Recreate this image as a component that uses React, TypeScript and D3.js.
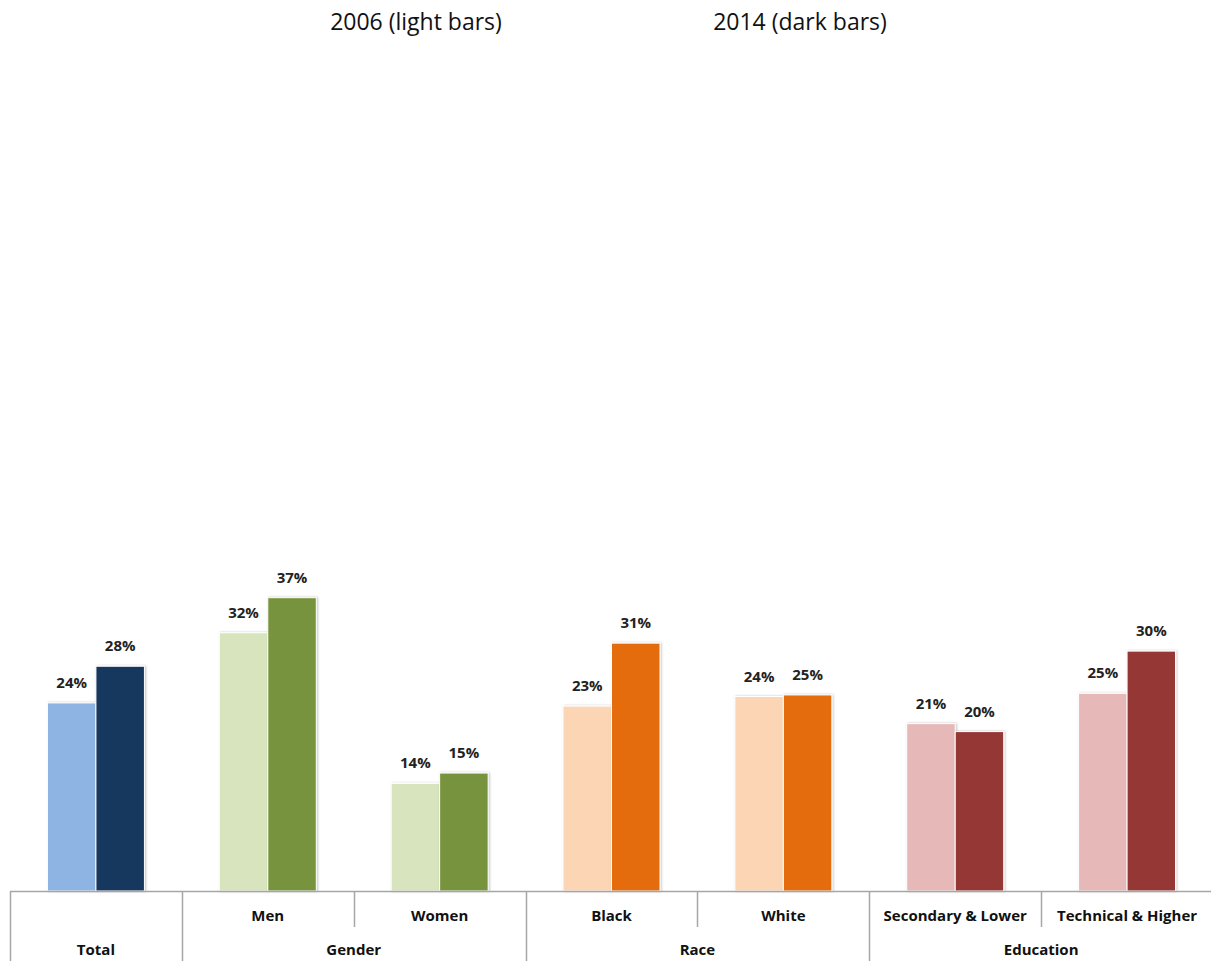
import React from "react";
import * as d3 from "d3";

const categories = ["Total", "Men", "Women", "Black", "White", "Secondary & Lower", "Technical & Higher"];
const categoryLabels = ["", "Men", "Women", "Black", "White", "Secondary & Lower", "Technical & Higher"];
const groups = ["Total", "Gender", "Gender", "Race", "Race", "Education", "Education"];
const values2006 = [23.6, 32.4, 13.5, 23.2, 24.4, 21.0, 24.8];
const values2014 = [28.2, 36.8, 14.8, 31.1, 24.6, 20.0, 30.1];
const lightColors = ["#8EB4E3", "#D7E4BD", "#D7E4BD", "#FCD5B5", "#FCD5B5", "#E6B9B8", "#E6B9B8"];
const darkColors = ["#17375E", "#77933C", "#77933C", "#E46C0A", "#E46C0A", "#953735", "#953735"];
const seriesNames = ["2006", "2014"];
const legendTexts = ["2006 (light bars)", "2014 (dark bars)"];

const W = 1211;
const H = 961;
const baseline = 891;
const FONT = "'Open Sans', Lato, sans-serif";

export default function App() {
  const x = d3.scaleBand<string>().domain(categories).range([10, 1213]).padding(0);
  const slot = x.bandwidth();
  const inner = d3
    .scaleBand<string>()
    .domain(seriesNames)
    .range([0, slot])
    .paddingInner(0)
    .paddingOuter((slot - 97) / 2 / 48.5);
  const y = d3.scaleLinear().domain([0, 10]).range([baseline, baseline - 79.7]);

  const groupSpans: { name: string; start: number; end: number }[] = [];
  groups.forEach((g, i) => {
    const last = groupSpans[groupSpans.length - 1];
    const x0 = x(categories[i])!;
    if (last && last.name === g) last.end = x0 + slot;
    else groupSpans.push({ name: g, start: x0, end: x0 + slot });
  });

  const series = [values2006, values2014];
  const colors = [lightColors, darkColors];

  return (
    <div style={{ position: "absolute", left: 0, top: 0 }}>
      <svg width={W} height={H} style={{ display: "block", fontFamily: FONT }}>
        <defs>
          <filter id="shadow" x="-20%" y="-20%" width="140%" height="140%">
            <feDropShadow dx="1" dy="0" stdDeviation="1.2" floodColor="#000" floodOpacity="0.25" />
          </filter>
        </defs>
        <rect width={W} height={H} fill="#fff" />
        <text x={416} y={30} textAnchor="middle" fontSize={23} fill="#111">
          {legendTexts[0]}
        </text>
        <text x={800} y={30} textAnchor="middle" fontSize={23} fill="#111">
          {legendTexts[1]}
        </text>

        {categories.map((c, i) =>
          series.map((vals, s) => {
            const bx = x(c)! + inner(seriesNames[s])!;
            const bw = inner.bandwidth();
            const top = y(vals[i]);
            return (
              <g key={c + s}>
                <rect
                  x={bx}
                  y={top}
                  width={bw}
                  height={baseline - top}
                  fill={colors[s][i]}
                  stroke="#fff"
                  strokeWidth={1}
                  filter="url(#shadow)"
                />
                <text
                  x={bx + bw / 2}
                  y={top - 15}
                  textAnchor="middle"
                  fontSize={15}
                  fontWeight="bold"
                  fill="#222"
                >
                  {Math.round(vals[i]) + "%"}
                </text>
              </g>
            );
          })
        )}

        <line x1={10} x2={W} y1={baseline + 0.5} y2={baseline + 0.5} stroke="#a6a6a6" strokeWidth={1.5} />
        {groupSpans.map((g) => (
          <line key={"gl" + g.name} x1={Math.round(g.start) + 0.5} x2={Math.round(g.start) + 0.5} y1={baseline} y2={H} stroke="#a6a6a6" strokeWidth={1.5} />
        ))}
        {categories.map((c, i) =>
          i > 0 && groups[i] === groups[i - 1] ? (
            <line key={"cl" + c} x1={Math.round(x(c)!) + 0.5} x2={Math.round(x(c)!) + 0.5} y1={baseline} y2={927} stroke="#a6a6a6" strokeWidth={1.5} />
          ) : null
        )}
        {categories.map((c, i) => (
          <text key={"ct" + c} x={x(c)! + slot / 2} y={921} textAnchor="middle" fontSize={15} fontWeight="bold" fill="#111">
            {categoryLabels[i]}
          </text>
        ))}
        {groupSpans.map((g) => (
          <text key={"gt" + g.name} x={(g.start + g.end) / 2} y={955} textAnchor="middle" fontSize={15} fontWeight="bold" fill="#111">
            {g.name}
          </text>
        ))}
      </svg>
    </div>
  );
}
